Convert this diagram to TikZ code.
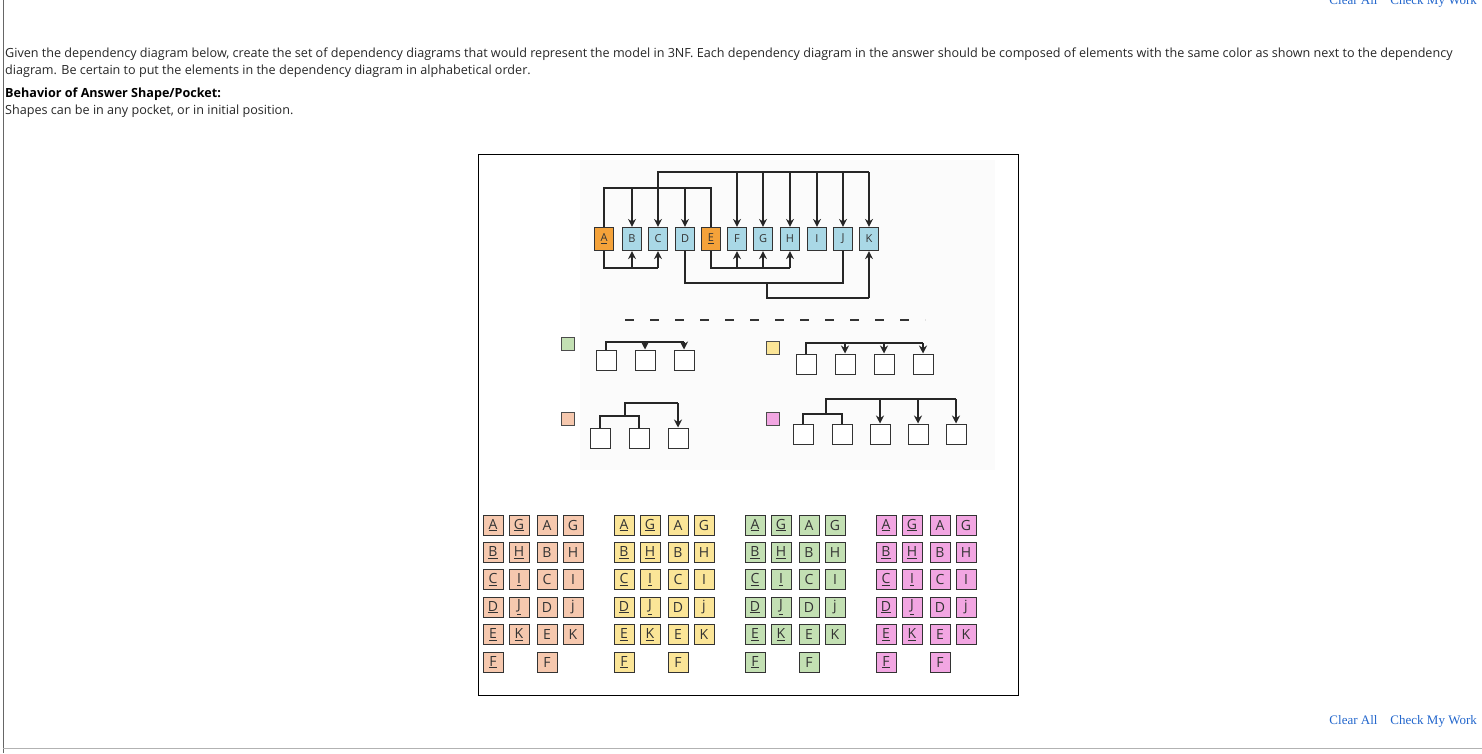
\documentclass[tikz,border=0pt]{standalone}
\usepackage{fontspec}
\setmainfont{Open Sans}
\newfontfamily\btnfont{Liberation Serif}
\usetikzlibrary{positioning,arrows.meta}
\definecolor{keyorange}{HTML}{F4A23A}
\definecolor{attrblue}{HTML}{A9D8E6}
\definecolor{tileorange}{HTML}{F6C8AE}
\definecolor{tileyellow}{HTML}{FBE597}
\definecolor{tilegreen}{HTML}{C3E0B3}
\definecolor{tilepink}{HTML}{F2A6E2}
\definecolor{linkblue}{HTML}{2266CC}

\begin{document}
\begin{tikzpicture}
  [ x=1pt, y=-1pt,
    attr/.style={rectangle, draw=black!80, line width=1.2pt, minimum width=19pt, minimum height=23pt, inner sep=0pt, fill=attrblue, font=\fontsize{11}{11}\selectfont\color{black!80}},
    key/.style={attr, fill=keyorange},
    pocket/.style={rectangle, draw=black!80, line width=1pt, minimum size=20pt, inner sep=0pt, fill=white},
    swatch/.style={rectangle, draw=black!70, line width=1pt, minimum size=13pt, inner sep=0pt},
    tile/.style={rectangle, draw=black!80, line width=0.8pt, minimum size=20pt, inner sep=0pt, font=\fontsize{14}{14}\selectfont\color{black!80}},
    ln/.style={-, line width=1.6pt, black!85},
    dep/.style={-{Stealth[length=8pt,width=8pt]}, line width=1.6pt, black!85},
    txt/.style={anchor=base west, inner sep=0pt, font=\fontsize{12.6}{14}\selectfont\color{black!85}}
  ]
  \useasboundingbox (0,0) rectangle (1482,753);
  \draw[black!60] (3,0) -- (3,753);
  \draw[black!30] (3,748) -- (1482,748);

  % heading text
  \node[txt] (q1) at (5,57) {Given the dependency diagram below, create the set of dependency diagrams that would represent the model in 3NF. Each dependency diagram in the answer should be composed of elements with the same color as shown next to the dependency};
  \node[txt] (q2) at (5,74) {diagram. Be certain to put the elements in the dependency diagram in alphabetical order.};
  \node[txt, font=\fontsize{12.6}{14}\selectfont\bfseries] (q3) at (5,97) {Behavior of Answer Shape/Pocket:};
  \node[txt] (q4) at (5,114) {Shapes can be in any pocket, or in initial position.};
  \node[anchor=base east, inner sep=0pt, font=\btnfont\fontsize{13}{14}\selectfont\color{linkblue}] (btn) at (1477,724) {Clear All\quad Check My Work};
  \node[anchor=base east, inner sep=0pt, font=\btnfont\fontsize{13}{14}\selectfont\color{linkblue}] (btntop) at (1477,4) {Clear All\quad Check My Work};

  % frame
  \draw[black, line width=0.8pt] (478,154) rectangle (1018,695);
  \fill[black!1.5] (580,160) rectangle (995,470);

  % source diagram
  \node[key] (A) at (604,239) {\underline{A}};
  \node[attr] (B) at (632,239) {B};
  \node[attr] (C) at (658,239) {C};
  \node[attr] (D) at (685,239) {D};
  \node[key] (E) at (711,239) {\underline{E}};
  \node[attr] (F) at (737,239) {F};
  \node[attr] (G) at (763,239) {G};
  \node[attr] (H) at (790,239) {H};
  \node[attr] (I) at (817,239) {I};
  \node[attr] (J) at (843,239) {J};
  \node[attr] (K) at (869,239) {K};
  \coordinate (up1) at (0,188);
  \coordinate (up2) at (0,172);
  \coordinate (lo1) at (0,268);
  \coordinate (lo2) at (0,283);
  \coordinate (lo3) at (0,298);

  \draw[ln] (A.north) -- (A.north |- up1) -- (E.north |- up1) -- (E.north);
  \foreach \n in {B,D}
    \draw[dep] (\n.north |- up1) -- (\n.north);
  \draw[ln] (C.north |- up1) -- (C.north |- up2) -- (K.north |- up2);
  \foreach \n in {C,F,G,H,I,J,K}
    \draw[dep] (\n.north |- up2) -- (\n.north);
  \draw[ln] (A.south) -- (A.south |- lo1) -- (C.south |- lo1);
  \foreach \n in {B,C}
    \draw[dep] (\n.south |- lo1) -- (\n.south);
  \draw[ln] (E.south) -- (E.south |- lo1) -- (H.south |- lo1);
  \foreach \n in {F,G,H}
    \draw[dep] (\n.south |- lo1) -- (\n.south);
  \draw[ln] (D.south) -- (D.south |- lo2) -- (J.south |- lo2) -- (J.south);
  \coordinate (mid) at (767,283);
  \draw[ln] (mid) -- (mid |- lo3) -- (K.south |- lo3);
  \draw[dep] (K.south |- lo3) -- (K.south);

  % dashes
  \draw[black!80, line width=1.5pt, dash pattern=on 9pt off 16pt] (625,320) -- (925,320);

  % green pocket
  \node[swatch, fill=tilegreen] (sw1) at (568,344) {};
  \node[pocket] (g1) at (606,360) {};
  \node[pocket] (g2) at (645,360) {};
  \node[pocket] (g3) at (684,360) {};
  \draw[ln] (g1.north) |- (684,342);
  \foreach \n in {g2,g3}
    \draw[dep] (\n.north |- 0,342) -- (\n.north);

  % yellow pocket
  \node[swatch, fill=tileyellow] (sw2) at (773,348) {};
  \node[pocket] (y1) at (806,364) {};
  \node[pocket] (y2) at (845,364) {};
  \node[pocket] (y3) at (884,364) {};
  \node[pocket] (y4) at (923,364) {};
  \draw[ln] (y1.north) |- (923,343);
  \foreach \n in {y2,y3,y4}
    \draw[dep] (\n.north |- 0,343) -- (\n.north);

  % orange pocket
  \node[swatch, fill=tileorange] (sw3) at (568,419) {};
  \node[pocket] (o1) at (600,438) {};
  \node[pocket] (o2) at (639,438) {};
  \node[pocket] (o3) at (678,438) {};
  \draw[ln] (o1.north) |- (o2.north |- 0,416) -- (o2.north);
  \draw[ln] (625,416) -- (625,403) -- (o3.north |- 0,403);
  \draw[dep] (o3.north |- 0,403) -- (o3.north);

  % pink pocket
  \node[swatch, fill=tilepink] (sw4) at (773,419) {};
  \node[pocket] (p1) at (803,434) {};
  \node[pocket] (p2) at (842,434) {};
  \node[pocket] (p3) at (880,434) {};
  \node[pocket] (p4) at (918,434) {};
  \node[pocket] (p5) at (956,434) {};
  \draw[ln] (p1.north) |- (p2.north |- 0,414) -- (p2.north);
  \draw[ln] (826,414) -- (826,399) -- (p5.north |- 0,399);
  \foreach \n in {p3,p4,p5}
    \draw[dep] (\n.north |- 0,399) -- (\n.north);

  % tiles
  \foreach \col [count=\g] in {tileorange,tileyellow,tilegreen,tilepink} {
    \pgfmathsetmacro{\gx}{493+131*(\g-1)}
    \foreach \l [count=\r] in {A,B,C,D,E,F} {
      \node[tile, fill=\col] (ku\g\l) at (\gx,525+27.4*\r-27.4) {\underline{\l}};
      \node[tile, fill=\col] (kp\g\l) at (\gx+54,525+27.4*\r-27.4) {\l};
    }
    \foreach \l/\m [count=\r] in {G/G,H/H,I/I,J/j,K/K} {
      \node[tile, fill=\col] (nu\g\l) at (\gx+26,525+27.4*\r-27.4) {\underline{\l}};
      \node[tile, fill=\col] (np\g\l) at (\gx+80,525+27.4*\r-27.4) {\m};
    }
  }
\end{tikzpicture}
\end{document}
